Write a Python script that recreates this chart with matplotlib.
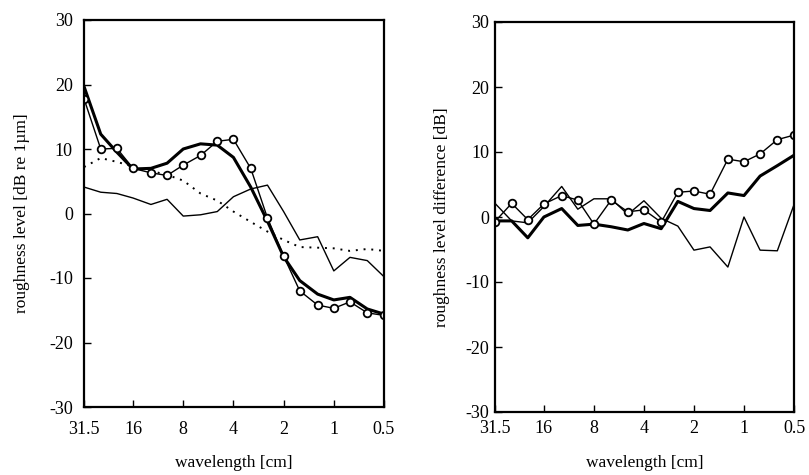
import matplotlib
matplotlib.use("Agg")
import matplotlib.pyplot as plt
from matplotlib.ticker import FixedLocator, FixedFormatter, NullLocator

plt.rcParams['font.family'] = ['Liberation Serif', 'DejaVu Serif']

# third-octave band wavelengths [cm]
wavelength = [31.5, 25, 20, 16, 12.5, 10, 8, 6.3, 5, 4, 3.15, 2.5, 2, 1.6, 1.25, 1, 0.8, 0.63, 0.5]
xtick_vals = [31.5, 16, 8, 4, 2, 1, 0.5]
xtick_labels = ["31.5", "16", "8", "4", "2", "1", "0.5"]
yticks = [-30, -20, -10, 0, 10, 20, 30]

# left panel: roughness level [dB re 1um]
left_thick = [19.7, 12.3, 9.5, 6.9, 7.0, 7.8, 10.0, 10.8, 10.6, 8.7, 4.1, -1.2, -6.7, -10.4, -12.5, -13.4, -13.0, -14.8, -15.6]
left_circles = [17.8, 10.0, 10.1, 7.0, 6.3, 5.9, 7.5, 9.0, 11.2, 11.5, 7.0, -0.7, -6.6, -12.0, -14.2, -14.7, -13.7, -15.4, -15.8]
left_thin = [4.1, 3.3, 3.1, 2.4, 1.4, 2.2, -0.4, -0.2, 0.3, 2.6, 3.8, 4.4, 0.3, -4.1, -3.6, -8.9, -6.8, -7.3, -9.8]
left_dotted = [7.2, 8.6, 8.0, 7.3, 6.6, 6.0, 5.1, 3.1, 2.0, 0.3, -1.3, -2.8, -4.1, -5.2, -5.3, -5.4, -5.8, -5.5, -5.8]

# right panel: roughness level difference [dB]
right_thick = [-0.6, -0.6, -3.2, 0.0, 1.3, -1.3, -1.1, -1.5, -2.0, -1.0, -1.8, 2.4, 1.3, 1.0, 3.7, 3.3, 6.3, 7.9, 9.5]
right_circles = [-0.7, 2.1, -0.4, 2.0, 3.3, 2.6, -1.1, 2.6, 0.8, 1.1, -0.8, 3.8, 4.0, 3.5, 8.9, 8.5, 9.7, 11.9, 12.6]
right_thin = [2.1, -0.6, -0.9, 1.6, 4.7, 1.2, 2.8, 2.8, 0.4, 2.5, -0.2, -1.4, -5.1, -4.6, -7.7, 0.0, -5.1, -5.2, 1.9]

fig = plt.figure(figsize=(8.09, 4.75), dpi=100)
ax1 = fig.add_axes([84/809, 1-407/475, 300/809, 387/475])
ax2 = fig.add_axes([495/809, 1-412/475, 299/809, 390/475])

marker_kw = dict(marker='o', markersize=5.5, markerfacecolor='white',
                 markeredgecolor='black', markeredgewidth=1.3)

ax1.plot(wavelength, left_thin, color='black', lw=1.0)
ax1.plot(wavelength, left_dotted, color='black', lw=1.4, linestyle=(0, (1.0, 3.0)))
ax1.plot(wavelength, left_thick, color='black', lw=2.2)
ax1.plot(wavelength, left_circles, color='black', lw=1.0, **marker_kw)

ax2.plot(wavelength, right_thin, color='black', lw=1.0)
ax2.plot(wavelength, right_thick, color='black', lw=2.2)
ax2.plot(wavelength, right_circles, color='black', lw=1.0, **marker_kw)

settings = [
    (ax1, 'roughness level [dB re 1\u00b5m]', 8, 14, 10, 12.5),
    (ax2, 'roughness level difference [dB]', 4, 11, 6, 13),
]
for ax, ylabel, ypad, ylabpad, xpad, xlabpad in settings:
    ax.set_xscale('log')
    ax.set_xlim(31.5, 0.5)
    ax.set_ylim(-30, 30)
    ax.xaxis.set_major_locator(FixedLocator(xtick_vals))
    ax.xaxis.set_major_formatter(FixedFormatter(xtick_labels))
    ax.xaxis.set_minor_locator(NullLocator())
    ax.set_yticks(yticks)
    ax.set_yticklabels([str(v) for v in yticks])
    ax.tick_params(axis='both', direction='in', length=5, width=1.0,
                   labelsize=13, colors='black')
    ax.tick_params(axis='y', pad=ypad)
    ax.tick_params(axis='x', pad=xpad)
    for sp in ax.spines.values():
        sp.set_linewidth(1.6)
    ax.set_xlabel('wavelength [cm]', fontsize=12.5, labelpad=xlabpad)
    ax.set_ylabel(ylabel, fontsize=12.5, labelpad=ylabpad)

fig.savefig('out.png', dpi=100, facecolor='white')
